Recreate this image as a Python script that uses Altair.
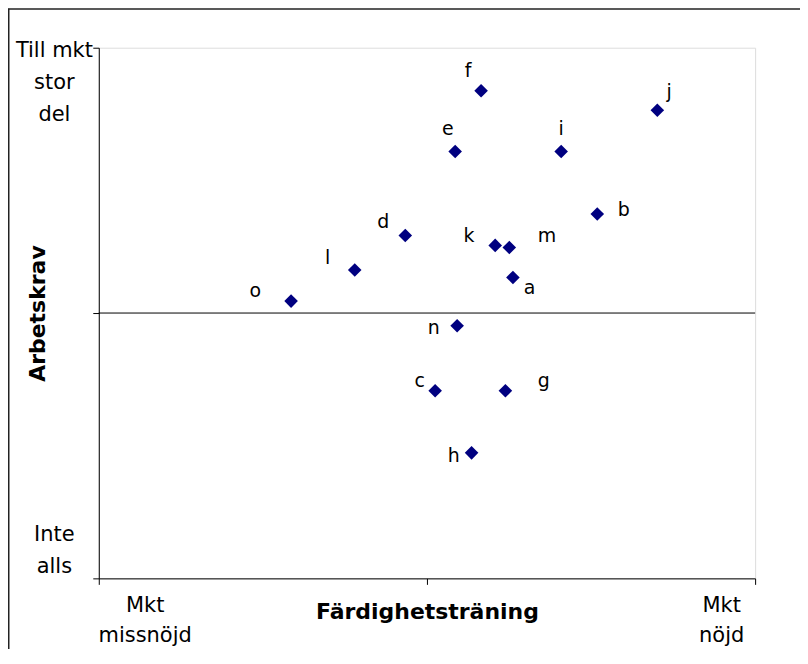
import altair as alt
import pandas as pd

# ---- data ----
labels = ['a', 'b', 'c', 'd', 'e', 'f', 'g', 'h', 'i', 'j', 'k', 'l', 'm', 'n', 'o']
skill = [0.262, 0.519, 0.025, -0.066, 0.086, 0.165, 0.239, 0.136, 0.409, 0.702,
         0.208, -0.220, 0.251, 0.092, -0.414]
demand = [0.134, 0.373, -0.293, 0.292, 0.609, 0.838, -0.293, -0.527, 0.609, 0.764,
          0.255, 0.162, 0.247, -0.048, 0.045]
# where each point's letter sits (data units)
label_x = [0.313, 0.600, -0.022, -0.133, 0.064, 0.125, 0.356, 0.082, 0.409, 0.738,
           0.128, -0.303, 0.366, 0.021, -0.523]
label_y = [0.093, 0.387, -0.256, 0.343, 0.692, 0.914, -0.258, -0.540, 0.695, 0.832,
           0.291, 0.206, 0.289, -0.058, 0.083]

tick_values = [-1, 0, 1]
x_title = 'Färdighetsträning'
y_title = 'Arbetskrav'

df = pd.DataFrame({'label': labels, 'skill': skill, 'demand': demand,
                   'lx': label_x, 'ly': label_y})

FONT = 'DejaVu Sans'
W, H = 658, 532

xscale = alt.Scale(domain=[-1, 1], nice=False, zero=False)
yscale = alt.Scale(domain=[-1, 1], nice=False, zero=False)

xaxis = alt.Axis(
    values=tick_values, grid=False,
    labelExpr="datum.value < 0 ? ['Mkt', 'missnöjd'] : datum.value > 0 ? ['Mkt', 'nöjd'] : ''",
    labelAlign='center', labelBaseline='top', labelPadding=10,
    labelOffset={'condition': {'test': 'datum.value < 0', 'value': 46}, 'value': -34},
    labelLineHeight=30, labelFont=FONT, labelFontSize=21, labelColor='black',
    labelFlush=False, labelOverlap=False, labelBound=False,
    tickSize=6, tickColor='black', domainColor='black', domainWidth=1,
    titleFont=FONT, titleFontSize=22, titleFontWeight='bold', titleColor='black',
    titleY=33, titleBaseline='middle',
)
yaxis = alt.Axis(
    values=tick_values, grid=False,
    labelExpr="datum.value > 0 ? ['Till mkt', 'stor', 'del'] : datum.value < 0 ? ['Inte', 'alls'] : ''",
    labelAlign='center', labelBaseline='middle', labelPadding=39,
    labelOffset={'condition': {'test': 'datum.value > 0', 'value': 3}, 'value': -44},
    labelLineHeight=32, labelFont=FONT, labelFontSize=21, labelColor='black',
    labelFlush=False, labelOverlap=False, labelBound=False,
    tickSize=6, tickColor='black', domainColor='black', domainWidth=1,
    titleFont=FONT, titleFontSize=22, titleFontWeight='bold', titleColor='black',
    titleAngle=270, titleX=-61, titleY=266, titleBaseline='middle', titleAlign='center',
)

X = lambda f: alt.X(f'{f}:Q', scale=xscale, axis=xaxis, title=x_title)
Y = lambda f: alt.Y(f'{f}:Q', scale=yscale, axis=yaxis, title=y_title)

base = alt.Chart(df)

points = base.mark_point(shape='diamond', filled=True, size=185,
                         color='#000080', opacity=1).encode(x=X('skill'), y=Y('demand'))

texts = base.mark_text(font=FONT, fontSize=19, color='black',
                       align='center', baseline='middle').encode(
    x=X('lx'), y=Y('ly'), text='label:N')

one = pd.DataFrame({'k': [0]})
midline = alt.Chart(one).mark_rule(color='black', strokeWidth=1).encode(
    y=alt.datum(0, scale=yscale))

border_left = alt.Chart(one).mark_rule(color='#222222', strokeWidth=1.5).encode(
    x=alt.value(-90.25), y=alt.value(-39), y2=alt.value(610))
border_top = alt.Chart(one).mark_rule(color='#222222', strokeWidth=1.5).encode(
    x=alt.value(-91), x2=alt.value(703), y=alt.value(-38.75))

chart = alt.layer(border_left, border_top, midline, points, texts).properties(
    width=W, height=H,
    autosize=alt.AutoSizeParams(type='none'),
    padding={'left': 91, 'top': 39, 'right': 45, 'bottom': 70},
).configure_view(stroke='#7a7a7a', strokeWidth=2).configure(background='white')

chart.save('out.html', embed_options={'renderer': 'svg', 'actions': False})
